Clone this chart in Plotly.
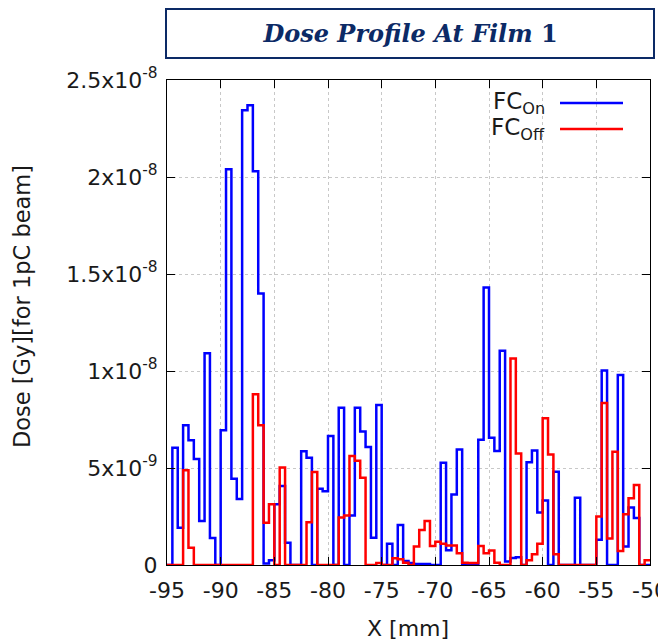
import numpy as np
import plotly.graph_objects as go

# ---- data (dose in units of 1e-9 Gy, 0.5 mm bins from -95 to -50 mm) ----
bin_start_mm = -95.0
bin_width_mm = 0.5

fc_on_e9 = [
    0, 6.05, 1.92, 7.2, 6.43, 5.47, 2.27, 10.92, 1.39, 0,
    6.94, 20.4, 4.45, 3.4, 23.44, 23.7, 20.3, 14.0, 0.08, 0.25,
    3.13, 4.07, 1.15, 0, 0, 5.86, 5.53, 0, 3.93, 3.8,
    6.65, 0, 8.1, 0, 2.55, 8.1, 6.88, 6.08, 1.41, 8.25,
    0, 1.1, 0, 2.06, 0.2, 0.1, 0.05, 0.05, 0.05, 0,
    0, 5.27, 0.76, 3.64, 5.95, 0, 0, 0, 6.45, 14.3,
    6.56, 5.88, 11.05, 0.18, 0.36, 0.4, 0, 5.3, 5.9, 2.7,
    3.33, 0, 4.81, 0, 0, 0, 3.47, 0, 0, 0,
    1.3, 10.02, 0, 0, 9.8, 0.95, 2.96, 2.42, 0, 0,
]

fc_off_e9 = [
    0, 0, 0, 4.88, 0.89, 0, 0, 0, 0, 0,
    0, 0, 0, 0, 0, 0, 8.8, 7.2, 2.18, 3.13,
    0, 5.02, 0, 0, 0, 0, 2.2, 4.8, 0, 0,
    0, 0, 2.45, 2.55, 5.62, 5.38, 4.5, 0, 0, 0.1,
    0, 0, 0.35, 0.3, 0.12, 0, 0.95, 1.8, 2.27, 0.98,
    1.2, 1.1, 1.0, 1.0, 0.6, 0.12, 0.1, 0.1, 0.98, 0.6,
    0.75, 0.12, 0, 0, 10.65, 5.75, 0, 0.25, 0.55, 1.1,
    7.56, 5.7, 0.55, 0, 0, 0, 0, 0, 0, 0,
    2.5, 8.35, 1.37, 5.84, 0.72, 2.61, 3.44, 4.12, 0, 0.25,
]

x_tick_vals = [-95, -90, -85, -80, -75, -70, -65, -60, -55, -50]
x_tick_text = ["-95", "-90", "-85", "-80", "-75", "-70", "-65", "-60", "-55", "-50"]
y_tick_vals = [0, 5e-9, 1e-8, 1.5e-8, 2e-8, 2.5e-8]
y_tick_text = ["0", "5x10<sup>-9</sup>", "1x10<sup>-8</sup>", "1.5x10<sup>-8</sup>",
               "2x10<sup>-8</sup>", "2.5x10<sup>-8</sup>"]

series_names = ["FC<sub>On</sub>", "FC<sub>Off</sub>"]
series_colors = ["#0000ff", "#ff0000"]

# ---- build step traces ----
n = len(fc_on_e9)
edges = bin_start_mm + bin_width_mm * np.arange(n + 1)

fig = go.Figure()
for vals, name, col in zip([fc_on_e9, fc_off_e9], series_names, series_colors):
    y = np.array(vals + [vals[-1]]) * 1e-9
    fig.add_trace(go.Scatter(x=edges, y=y, mode="lines", line_shape="hv",
                             line=dict(color=col, width=2.5), name=name,
                             showlegend=False))

# page body has an 8px margin; figure is sized so the window shows the same layout
OFF = 8
W, H = 666 - OFF, 641 - OFF
plot_left, plot_right, plot_top, plot_bottom = 167, 650, 80, 565  # window pixels
L = plot_left - OFF
R = W - (plot_right - OFF)
T = plot_top - OFF
B = H - (plot_bottom - OFF)
pw, ph = W - L - R, H - T - B

def px_to_paper(px, py):
    return (px - OFF - L) / pw, (H - B - (py - OFF)) / ph

text_col = "#1a1a1a"
axis_common = dict(showline=True, linecolor="black", linewidth=1, mirror="ticks",
                   ticks="inside", ticklen=8, tickwidth=1, tickcolor="black",
                   showgrid=True, gridcolor="#c8c8c8", griddash="dot", gridwidth=1,
                   zeroline=False, automargin=False, ticklabeloverflow="allow",
                   tickfont=dict(family="DejaVu Sans", size=22, color=text_col))

fig.update_layout(
    width=W, height=H,
    margin=dict(l=L, r=R, t=T, b=B, autoexpand=False),
    paper_bgcolor="white", plot_bgcolor="white",
    xaxis=dict(range=[-95, -50], tickvals=x_tick_vals, ticktext=x_tick_text,
               ticklabelstandoff=6, **axis_common),
    yaxis=dict(range=[0, 2.5e-8], tickvals=y_tick_vals, ticktext=y_tick_text,
               ticklabelstandoff=4, **axis_common),
)

# axis titles
xx, xy = px_to_paper(408, 628)
fig.add_annotation(x=xx, y=xy, xref="paper", yref="paper", showarrow=False,
                   text="X [mm]", xanchor="center", yanchor="middle",
                   font=dict(family="DejaVu Sans", size=22, color=text_col))
yx, yy_ = px_to_paper(22, 307)
fig.add_annotation(x=yx, y=yy_, xref="paper", yref="paper", showarrow=False,
                   text="Dose [Gy][for 1pC beam]", textangle=-90,
                   xanchor="center", yanchor="middle",
                   font=dict(family="DejaVu Sans", size=22.5, color=text_col))

# title box
tx, ty = px_to_paper(410, 34)
fig.add_annotation(x=tx, y=ty, xref="paper", yref="paper", showarrow=False,
                   text="<b><i>Dose Profile At Film</i> 1</b>",
                   font=dict(family="DejaVu Serif", size=24, color="#0c2a66"),
                   width=486, height=47, bordercolor="#0c2a66", borderwidth=2,
                   borderpad=0, bgcolor="white", xanchor="center", yanchor="middle")

# legend (gnuplot style: text then line sample)
for i, (name, col) in enumerate(zip(series_names, series_colors)):
    ly = 103 + 26 * i
    ax, ay = px_to_paper(547, ly)
    fig.add_annotation(x=ax, y=ay, xref="paper", yref="paper", showarrow=False,
                       text=name, xanchor="right", yanchor="middle",
                       font=dict(family="DejaVu Sans", size=23, color=text_col))
    x0, y0 = px_to_paper(560, ly)
    x1, _ = px_to_paper(623, ly)
    fig.add_shape(type="line", xref="paper", yref="paper", x0=x0, x1=x1, y0=y0, y1=y0,
                  line=dict(color=col, width=2.5))

fig.write_html("out.html")
